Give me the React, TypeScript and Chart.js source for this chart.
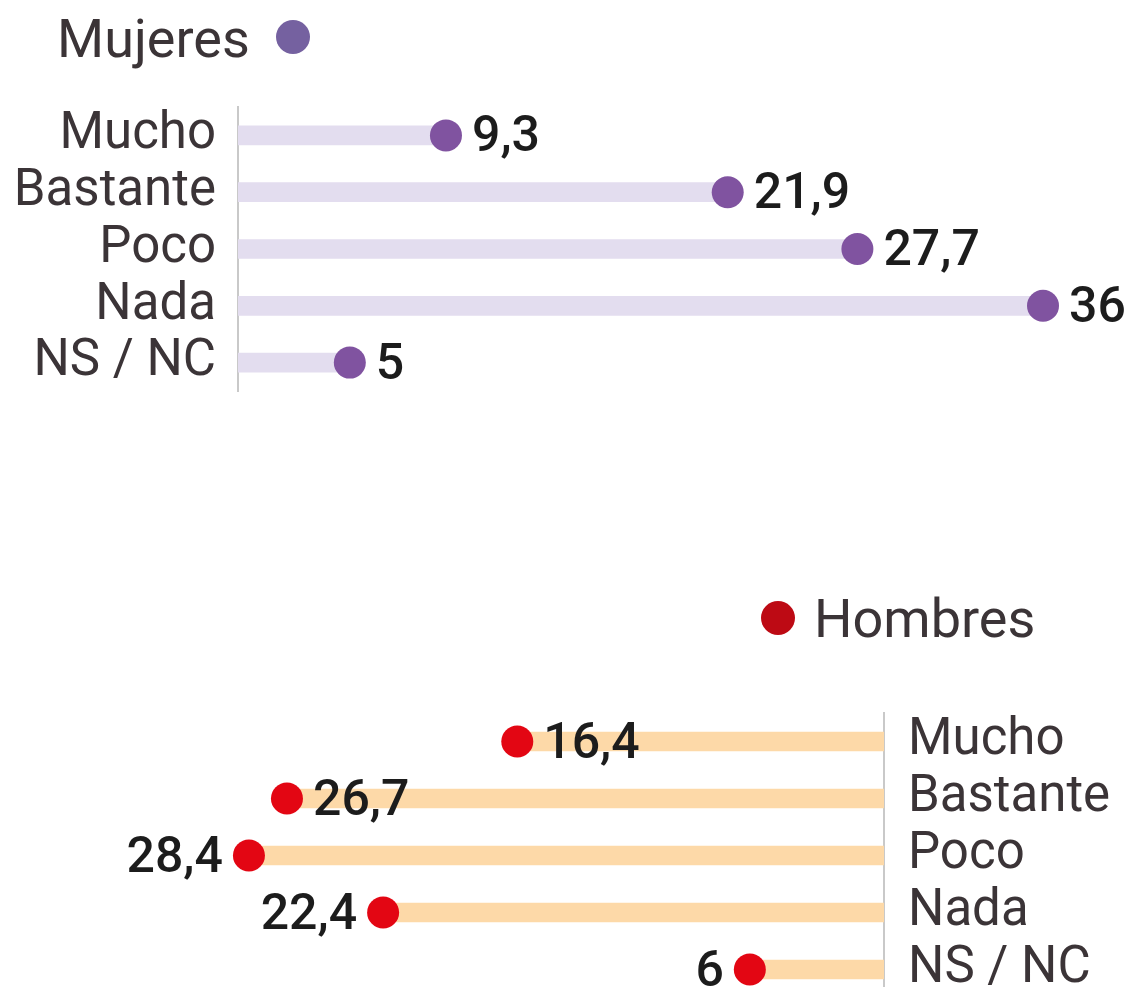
import React, { useEffect, useRef } from "react";
import { Chart, registerables } from "chart.js";

Chart.register(...registerables);

// ---- Data ----
const categories = ["Mucho", "Bastante", "Poco", "Nada", "NS / NC"];
const mujeresValues = [9.3, 21.9, 27.7, 36, 5];
const hombresValues = [16.4, 26.7, 28.4, 22.4, 6];
const mujeresTitle = "Mujeres";
const hombresTitle = "Hombres";
const hombresLabelSide = ["right", "right", "left", "left", "left"];
const axisMin = 0;
const axisMax = 36;

// ---- Styles ----
const FONT = "Roboto, 'Liberation Sans', Arial, sans-serif";
const TEXT_COLOR = "#3b3437";
const VALUE_COLOR = "#1c1c1c";
const AXIS_COLOR = "#c9c9c9";

const fmt = (v: number) => String(v).replace(".", ",");

const valueLabels = {
  id: "valueLabels",
  afterDatasetsDraw(chart: any, _args: any, opts: any) {
    const meta = chart.getDatasetMeta(1);
    const values = chart.data.datasets[1].data as number[];
    const ctx = chart.ctx;
    ctx.save();
    ctx.font = `500 50px ${FONT}`;
    ctx.fillStyle = VALUE_COLOR;
    ctx.textBaseline = "alphabetic";
    meta.data.forEach((pt: any, i: number) => {
      const side = opts.sides ? opts.sides[i] : "right";
      ctx.textAlign = side === "right" ? "left" : "right";
      const x = side === "right" ? pt.x + opts.gap : pt.x - opts.gap;
      ctx.fillText(fmt(values[i]), x, pt.y + 16);
    });
    ctx.restore();
  },
};

const dotLegend = {
  id: "dotLegend",
  afterDraw(chart: any, _args: any, o: any) {
    const ctx = chart.ctx;
    ctx.save();
    ctx.font = `400 54px ${FONT}`;
    ctx.fillStyle = TEXT_COLOR;
    ctx.textBaseline = "alphabetic";
    ctx.textAlign = "left";
    ctx.fillText(o.text, o.textX, o.baseline);
    ctx.beginPath();
    ctx.arc(o.dotX, o.dotY, o.r, 0, Math.PI * 2);
    ctx.fillStyle = o.dotColor;
    ctx.fill();
    ctx.restore();
  },
};

function makeConfig(opts: {
  values: number[];
  trackColor: string;
  dotColor: string;
  reverse: boolean;
  axisPos: "left" | "right";
  axisWidth: number;
  tickPadding: number;
  padding: any;
  sides?: string[];
  legend: any;
}): any {
  return {
    type: "bar",
    data: {
      labels: categories,
      datasets: [
        {
          type: "bar",
          data: opts.values,
          indexAxis: "y",
          backgroundColor: opts.trackColor,
          borderWidth: 0,
          barThickness: 19,
          order: 2,
        },
        {
          type: "line",
          data: opts.values,
          indexAxis: "y",
          showLine: false,
          pointRadius: 16,
          pointHoverRadius: 16,
          pointBackgroundColor: opts.dotColor,
          pointBorderWidth: 0,
          clip: false,
          order: 1,
        },
      ],
    },
    options: {
      indexAxis: "y",
      animation: false,
      responsive: false,
      events: [],
      layout: { padding: opts.padding, autoPadding: false },
      scales: {
        x: {
          type: "linear",
          display: false,
          min: axisMin,
          max: axisMax,
          reverse: opts.reverse,
        },
        y: {
          type: "category",
          position: opts.axisPos,
          offset: true,
          grid: { display: false, drawTicks: false },
          border: { display: true, color: AXIS_COLOR, width: 2 },
          ticks: {
            autoSkip: false,
            padding: opts.tickPadding,
            color: TEXT_COLOR,
            font: { family: FONT, size: 51, weight: "400" },
          },
          afterFit(scale: any) {
            scale.width = opts.axisWidth;
            scale.paddingTop = 0;
            scale.paddingBottom = 0;
          },
        },
      },
      plugins: {
        legend: { display: false },
        tooltip: { enabled: false },
        valueLabels: { sides: opts.sides, gap: 26 },
        dotLegend: opts.legend,
      },
    },
    plugins: [valueLabels, dotLegend],
  };
}

export default function App() {
  const topRef = useRef<HTMLCanvasElement>(null);
  const botRef = useRef<HTMLCanvasElement>(null);

  useEffect(() => {
    const top = new Chart(
      topRef.current as HTMLCanvasElement,
      makeConfig({
        values: mujeresValues,
        trackColor: "#e3ddef",
        dotColor: "#8053a0",
        reverse: false,
        axisPos: "left",
        axisWidth: 238,
        tickPadding: 22,
        padding: { top: 107, bottom: 29, left: 0, right: 86 },
        legend: {
          text: mujeresTitle,
          textX: 57,
          baseline: 57,
          dotX: 293,
          dotY: 37,
          r: 17,
          dotColor: "#7561a0",
        },
      })
    );
    const bot = new Chart(
      botRef.current as HTMLCanvasElement,
      makeConfig({
        values: hombresValues,
        trackColor: "#fdd9a8",
        dotColor: "#e30613",
        reverse: true,
        axisPos: "right",
        axisWidth: 245,
        tickPadding: 24,
        sides: hombresLabelSide,
        padding: { top: 153, bottom: 0, left: 79, right: 0 },
        legend: {
          text: hombresTitle,
          textX: 814,
          baseline: 77,
          dotX: 778,
          dotY: 58,
          r: 17,
          dotColor: "#bd0a14",
        },
      })
    );
    return () => {
      top.destroy();
      bot.destroy();
    };
  }, []);

  return (
    <div
      style={{
        position: "absolute",
        left: 0,
        top: 0,
        width: 1129,
        height: 987,
        overflow: "hidden",
        background: "#ffffff",
      }}
    >
      <canvas
        ref={topRef}
        width={1129}
        height={420}
        style={{ position: "absolute", left: 0, top: 0, width: 1129, height: 420 }}
      />
      <canvas
        ref={botRef}
        width={1129}
        height={438}
        style={{ position: "absolute", left: 0, top: 560, width: 1129, height: 438 }}
      />
    </div>
  );
}
